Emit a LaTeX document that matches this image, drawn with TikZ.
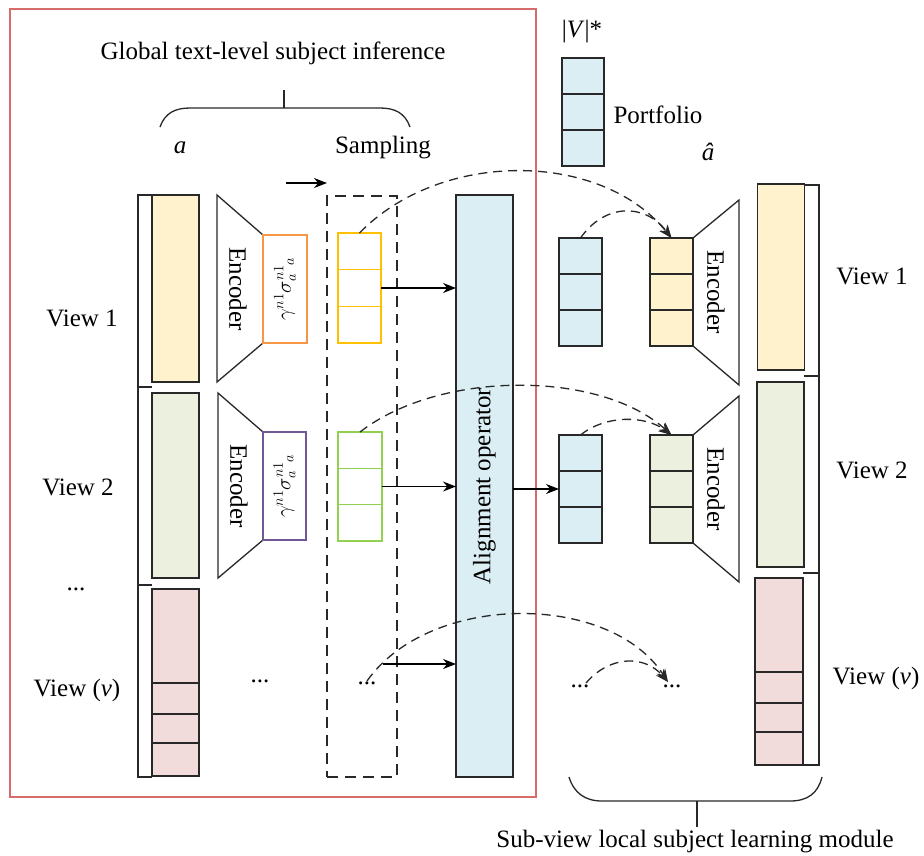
\documentclass[tikz,border=0pt]{standalone}
\usepackage{fontspec}
\setmainfont{Liberation Serif}
\usetikzlibrary{arrows.meta,calc}
\definecolor{redframe}{RGB}{214,108,108}
\definecolor{fillY}{RGB}{255,242,204}
\definecolor{fillG}{RGB}{235,241,222}
\definecolor{fillP}{RGB}{242,220,219}
\definecolor{fillB}{RGB}{218,238,243}
\definecolor{lineO}{RGB}{247,150,70}
\definecolor{lineP}{RGB}{112,88,150}
\definecolor{lineY}{RGB}{255,192,0}
\definecolor{lineG}{RGB}{146,208,80}
\definecolor{dk}{RGB}{40,40,40}
\newcommand\divline[3]{\draw[#3] ($(#1.north west)!#2!(#1.south west)$) -- ($(#1.north east)!#2!(#1.south east)$);}
\begin{document}
\begin{tikzpicture}[x=1pt,y=-1pt,font=\fontsize{25}{30}\selectfont,
  ln/.style={draw=dk,line width=1.3pt},
  colbox/.style={draw=dk,line width=1.3pt,inner sep=0pt,outer sep=0pt},
  cellbox/.style={line width=1.3pt,inner sep=0pt,outer sep=0pt,minimum width=43pt,minimum height=108pt},
  dasharrow/.style={draw=dk,line width=1.3pt,dash pattern=on 9pt off 6pt,-{Stealth[length=13pt,width=10pt]}},
  solidarrow/.style={draw=black,line width=1.3pt,-{Stealth[length=13pt,width=10pt]}},
  mathlbl/.style={rotate=90,font=\fontsize{20}{24}\selectfont,inner sep=0pt}]
\useasboundingbox (0,0) rectangle (924,855);
\fill[white] (0,0) rectangle (924,855);

% red frame
\draw[redframe,line width=1.3pt] (10,9) rectangle (536,797);

% titles
\node (title) at (273,53) {Global text-level subject inference};
\draw[ln] (160,127) .. controls (165,113) and (175,108) .. (190,108) -- (380,108) .. controls (395,108) and (405,113) .. (410,127);
\draw[ln] (284,108) -- (284,90);
\node (alab) at (180,148) {\textit{a}};
\node (samplab) at (383,148) {Sampling};
\coordinate (sa1) at (286,183);
\coordinate (sa2) at (327,183);
\draw[solidarrow] (sa1) -- (sa2);

% left column
\draw[ln] (152,195) -- (138,195) -- (138,777) -- (152,777);
\draw[ln] (138,387) -- (152,387);
\draw[ln] (138,585) -- (152,585);
\node[colbox,fill=fillY,minimum width=47pt,minimum height=187pt] (ly1) at (175.5,288.5) {};
\node[colbox,fill=fillG,minimum width=47pt,minimum height=185pt] (lg2) at (175.5,485.5) {};
\node[colbox,fill=fillP,minimum width=47pt,minimum height=187pt] (lp3) at (175.5,682.5) {};
\divline{lp3}{0.503}{ln}
\divline{lp3}{0.668}{ln}
\divline{lp3}{0.824}{ln}

\node (lv1) at (82,318) {View 1};
\node (lv2) at (78,487) {View 2};
\node[anchor=base] (lvd) at (76,590) {...};
\node (lvv) at (77,690) {View (\textit{v})};

% left encoders
\draw[ln,fill=white] (217,195) -- (263,235) -- (263,343) -- (217,382) -- cycle;
\node[rotate=-90] (enc1) at (238,289) {Encoder};
\node[cellbox,draw=lineO,fill=white,minimum width=44pt] (lo1) at (285,289) {};
\node[mathlbl] (mu1) at (lo1) {$\gamma^{n1}\sigma_{a}^{n1}{}_{a}$};

\draw[ln,fill=white] (218,393) -- (263,432) -- (263,540) -- (218,578) -- cycle;
\node[rotate=-90] (enc2) at (239,486) {Encoder};
\node[cellbox,draw=lineP,fill=white] (lo2) at (284.5,486) {};
\node[mathlbl] (mu2) at (lo2) {$\gamma^{n1}\sigma_{a}^{n1}{}_{a}$};

\node[anchor=base] (ld) at (260,682) {...};

% sampling
\node[draw=dk,line width=1.3pt,dash pattern=on 11pt off 7pt,inner sep=0pt,minimum width=70pt,minimum height=581pt] (samp) at (362,486.5) {};
\node[cellbox,draw=lineY,minimum height=110pt] (s1) at (359.5,288) {};
\divline{s1}{0.3333}{draw=lineY,line width=1.3pt}
\divline{s1}{0.6667}{draw=lineY,line width=1.3pt}
\node[cellbox,draw=lineG,minimum width=44pt,minimum height=109pt] (s2) at (360,486.5) {};
\divline{s2}{0.3333}{draw=lineG,line width=1.3pt}
\divline{s2}{0.6667}{draw=lineG,line width=1.3pt}
\node[anchor=base] (sd) at (367,684) {...};

% alignment
\node[colbox,fill=fillB,minimum width=57pt,minimum height=582pt] (align) at (484.5,486) {};
\node[rotate=90] (alignlab) at (align) {Alignment operator};

% portfolio
\node (vstar) at (582,32) {|\textit{V}|*};
\node[colbox,fill=fillB,minimum width=42pt,minimum height=108pt] (pf) at (583,112) {};
\divline{pf}{0.3333}{ln}
\divline{pf}{0.6667}{ln}
\node (pflab) at (658,115) {Portfolio};
\node (ahat) at (708,152) {\textit{â}};

% right view 1
\node[colbox,fill=fillB,minimum width=43pt,minimum height=108pt] (rb1) at (580.5,292) {};
\divline{rb1}{0.3333}{ln}
\divline{rb1}{0.6667}{ln}
\draw[ln,fill=white] (693,238) -- (739,200) -- (739,385) -- (693,346) -- cycle;
\node[rotate=-90] (renc1) at (716,292) {Encoder};
\node[colbox,fill=fillY,minimum width=43pt,minimum height=108pt] (ry1) at (671.5,292) {};
\divline{ry1}{0.3333}{ln}
\divline{ry1}{0.6667}{ln}

% right view 2
\node[colbox,fill=fillB,minimum width=43pt,minimum height=108pt] (rb2) at (580.5,489) {};
\divline{rb2}{0.3333}{ln}
\divline{rb2}{0.6667}{ln}
\draw[ln,fill=white] (693,435) -- (739,396) -- (739,582) -- (693,543) -- cycle;
\node[rotate=-90] (renc2) at (716,489) {Encoder};
\node[colbox,fill=fillG,minimum width=43pt,minimum height=108pt] (ry2) at (671.5,489) {};
\divline{ry2}{0.3333}{ln}
\divline{ry2}{0.6667}{ln}

\node[anchor=base] (rd1) at (580,687) {...};
\node[anchor=base] (rd2) at (672,687) {...};

% right column
\draw[ln] (805,185) -- (819,185) -- (819,765) -- (803,765);
\draw[ln] (804,376) -- (819,376);
\draw[ln] (803,573) -- (819,573);
\node[colbox,fill=fillY,minimum width=47pt,minimum height=186pt] (rc1) at (781,277) {};
\node[colbox,fill=fillG,minimum width=47pt,minimum height=185pt] (rc2) at (780.5,474.5) {};
\node[colbox,fill=fillP,minimum width=48pt,minimum height=187pt] (rc3) at (779,671.5) {};
\divline{rc3}{0.503}{ln}
\divline{rc3}{0.668}{ln}
\divline{rc3}{0.824}{ln}
\node (rv1) at (872,276) {View 1};
\node (rv2) at (872,470) {View 2};
\node (rvv) at (876,678) {View (\textit{v})};

% bottom brace
\draw[ln] (569,777) .. controls (574,793) and (585,801) .. (602,801) -- (790,801) .. controls (808,801) and (818,793) .. (822,777);
\draw[ln] (697,801) -- (697,827);
\node (sublab) at (695,842) {Sub-view local subject learning module};

% solid arrows
\draw[solidarrow] (s1.east) -- (s1.east -| align.west);
\draw[solidarrow] (s2.east) -- (s2.east -| align.west);
\coordinate (cv) at (383,664);
\draw[solidarrow] (cv) -- (cv -| align.west);
\draw[solidarrow] (align.east |- rb2.west) -- (rb2.west);

% dashed curves
\draw[dasharrow] (s1.north) .. controls (440,150) and (600,150) .. (ry1.north);
\draw[dasharrow] (rb1.north) .. controls (605,203) and (645,203) .. (ry1.north);
\draw[dasharrow] (s2.north) .. controls (440,370) and (600,370) .. (ry2.north);
\draw[dasharrow] (rb2.north) .. controls (605,415) and (645,415) .. (ry2.north);
\coordinate (tipv) at ($(rd2.base)+(-4,-5)$);
\draw[dasharrow] ($(sd.base)+(0,-3)$) .. controls (430,592) and (610,592) .. (tipv);
\draw[dasharrow] ($(rd1.base)+(6,-4)$) .. controls (610,655) and (645,655) .. (tipv);
\end{tikzpicture}
\end{document}
